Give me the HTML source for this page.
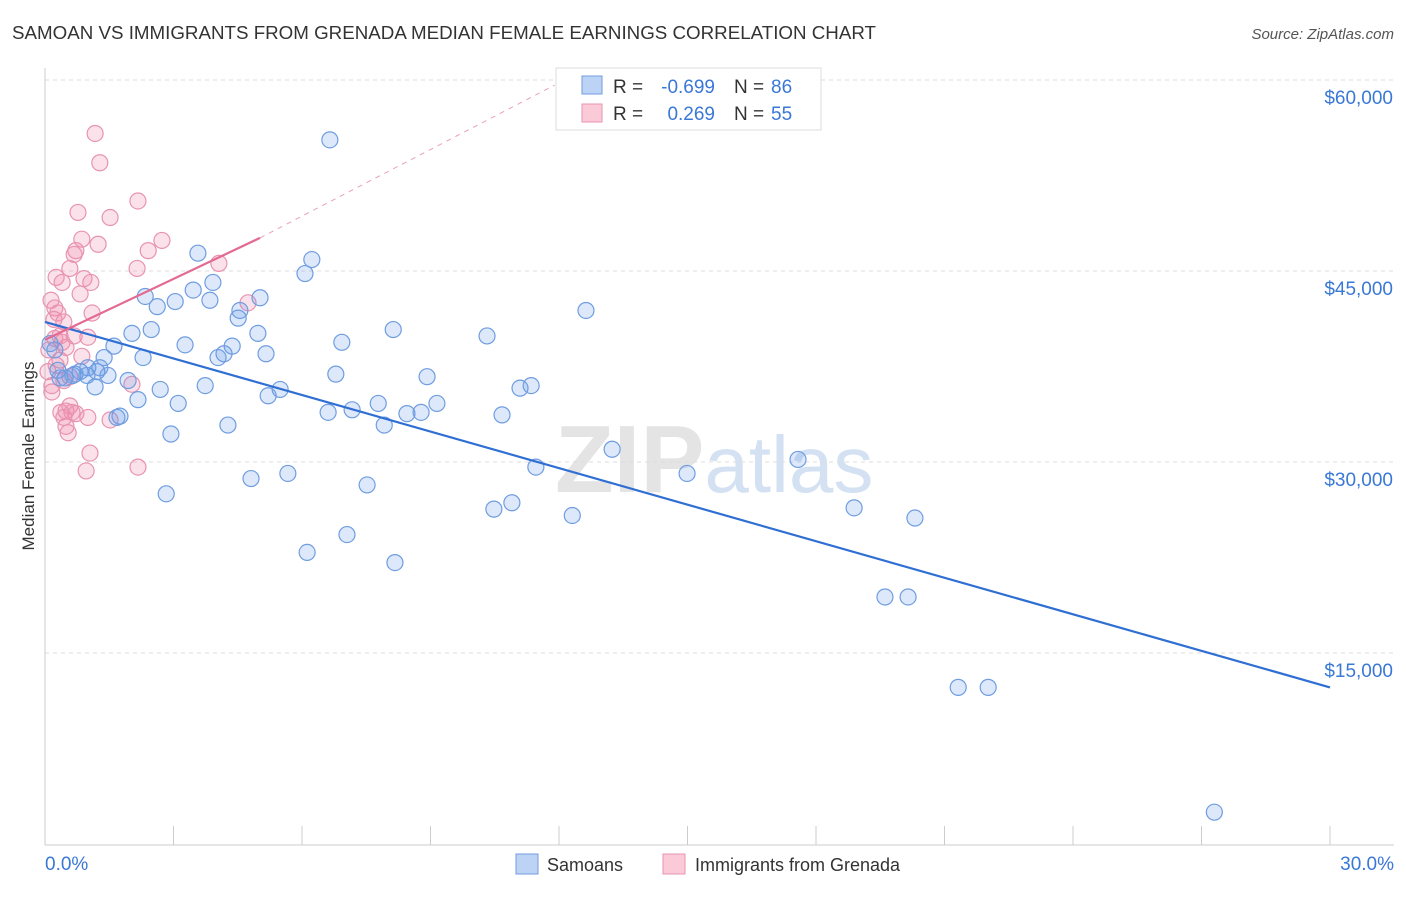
<!DOCTYPE html>
<html><head><meta charset="utf-8"><style>
body{margin:0;background:#fff;font-family:"Liberation Sans",sans-serif;}
svg text{font-family:"Liberation Sans",sans-serif;}
</style></head><body>
<svg id="chart" width="1406" height="892" viewBox="0 0 1406 892" xmlns="http://www.w3.org/2000/svg">
<text x="12" y="39" font-size="18" fill="#333" textLength="864" lengthAdjust="spacingAndGlyphs">SAMOAN VS IMMIGRANTS FROM GRENADA MEDIAN FEMALE EARNINGS CORRELATION CHART</text>
<text x="1394" y="39" font-size="15" fill="#555" text-anchor="end" font-style="italic">Source: ZipAtlas.com</text>
<text x="555" y="492" font-size="96" fill="#e4e4e4" font-family="Liberation Serif" font-weight="bold">ZIP<tspan fill="#d3e1f3" font-family="Liberation Sans" font-weight="normal" font-size="80">atlas</tspan></text>
<g id="grid"></g>
<g id="axes"></g>
<g id="trends"></g>
<g id="points"></g>
<text transform="translate(34,456) rotate(-90)" font-size="17" fill="#333" text-anchor="middle">Median Female Earnings</text>
<g>
<rect x="556" y="68" width="265" height="62" fill="#fff" stroke="#ddd"/>
<rect x="582" y="76" width="20" height="18" fill="#bcd3f5" stroke="#6f9de0"/>
<rect x="582" y="104" width="20" height="18" fill="#fbcad9" stroke="#e893b0"/>
<text x="613" y="93" font-size="19" fill="#333">R =</text>
<text x="715" y="93" font-size="19" fill="#3a78d6" text-anchor="end">-0.699</text>
<text x="734" y="93" font-size="19" fill="#333">N =</text>
<text x="771" y="93" font-size="19" fill="#3a78d6">86</text>
<text x="613" y="120" font-size="19" fill="#333">R =</text>
<text x="715" y="120" font-size="19" fill="#3a78d6" text-anchor="end">0.269</text>
<text x="734" y="120" font-size="19" fill="#333">N =</text>
<text x="771" y="120" font-size="19" fill="#3a78d6">55</text>
</g>
<g>
<rect x="516" y="854" width="22" height="20" fill="#bcd3f5" stroke="#6f9de0"/>
<text x="547" y="871" font-size="18" fill="#333">Samoans</text>
<rect x="663" y="854" width="22" height="20" fill="#fbcad9" stroke="#e893b0"/>
<text x="695" y="871" font-size="18" fill="#333">Immigrants from Grenada</text>
</g>
</svg>
<script>
const yTicks=[15000,30000,45000,60000];
const yTickLabels=["$15,000","$30,000","$45,000","$60,000"];
const xTickValues=[0,3,6,9,12,15,18,21,24,27,30];
const xEndLabels=["0.0%","30.0%"];
const blueX=[6.65,6.23,6.07,3.57,3.92,2.34,3.04,2.62,3.46,3.85,4.55,5.02,4.51,4.97,2.03,2.48,3.27,4.37,4.18,4.04,5.16,1.61,1.38,2.29,0.12,0.23,0.30,0.47,0.65,0.82,1.00,1.21,1.47,1.17,1.94,2.69,2.17,3.11,3.74,5.49,5.21,1.75,1.68,4.27,2.94,2.83,4.81,5.67,6.12,6.93,6.79,6.61,7.17,7.78,7.92,7.52,7.05,8.17,8.13,8.92,8.45,8.78,9.15,10.32,11.09,11.35,10.67,11.46,10.48,10.90,12.63,13.24,12.31,14.99,17.58,18.89,20.31,19.61,20.15,21.32,22.02,27.30,0.35,0.70,0.98,1.28];
const blueY=[55300,45900,44800,46400,44100,43000,42600,42200,43500,42700,41900,42900,41300,40100,40100,40400,39200,39100,38500,38200,38500,39100,38200,38200,39300,38800,37200,36600,36800,37100,37400,37100,36800,35900,36400,35700,34900,34600,36000,35700,35200,33600,33500,32900,32200,27500,28700,29100,22900,39400,36900,33900,34100,34600,32900,28200,24300,22100,40400,36700,33800,33900,34600,39900,35800,36000,33700,29600,26300,26800,41900,31000,25800,29100,30200,26400,25600,19400,19400,12300,12300,2500,36600,36900,36800,37400];
const pinkX=[1.17,1.28,2.17,0.77,1.52,0.86,2.73,1.24,0.72,2.41,0.68,4.06,2.15,0.58,0.26,0.91,0.40,1.07,0.82,0.14,0.23,1.10,0.30,0.44,4.74,1.00,0.23,0.40,0.49,0.09,0.86,0.35,0.07,2.03,0.44,0.16,0.58,0.49,0.37,0.63,0.72,0.44,1.00,1.52,0.49,0.54,1.05,2.17,0.96,0.16,0.58,0.26,0.68,0.35,0.21];
const pinkY=[55800,53500,50500,49600,49200,47500,47400,47100,46600,46600,46300,45600,45200,45200,44500,44400,44100,44100,43200,42700,42100,41700,41700,41000,42500,39800,39700,39400,39000,38800,38300,38000,37100,36100,36400,35500,34400,34000,33900,33900,33800,33500,33500,33300,32800,32300,30700,29600,29300,36000,36700,37600,39900,39900,41200];
const blueTrend=[0,41000,30,12300];
const pinkTrend=[0,39600,5.02,47600];
const pinkDash=[5.02,47600,11.9,59600];
const NS="http://www.w3.org/2000/svg";
const X0=45,X1=1330;
function xs(v){return X0+(v/30)*(X1-X0);}
function ys(v){return 80+(60000-v)/15000*191;}
function mk(tag,attrs,parent){const e=document.createElementNS(NS,tag);for(const k in attrs)e.setAttribute(k,attrs[k]);parent.appendChild(e);return e;}
const grid=document.getElementById('grid'),axes=document.getElementById('axes'),tr=document.getElementById('trends'),pts=document.getElementById('points');
yTicks.forEach((t,i)=>{
 const l=mk('line',{x1:X0,x2:1394,y1:ys(t),y2:ys(t),stroke:'#ddd','stroke-dasharray':'4,4'},grid);
 
 
 const tx=mk('text',{x:1393,y:ys(t)+24,'font-size':19,fill:'#3a78d6','text-anchor':'end'},axes);
 tx.textContent=yTickLabels[i];
 
 
});
const ax=mk('line',{x1:X0,x2:1394,y1:845,y2:845,stroke:'#ccc'},axes);


const ay=mk('line',{x1:X0,x2:X0,y1:68,y2:845,stroke:'#ccc'},axes);


xTickValues.forEach(v=>{
 const t=mk('line',{x1:xs(v),x2:xs(v),y1:826,y2:845,stroke:'#ccc'},axes);
 
 
});
const xl0=mk('text',{x:45,y:870,'font-size':19,fill:'#3a78d6'},axes);xl0.textContent=xEndLabels[0];


const xl1=mk('text',{x:1394,y:870,'font-size':19,fill:'#3a78d6','text-anchor':'end'},axes);xl1.textContent=xEndLabels[1];


function drawPts(X,Y,fill,stroke,name){X.forEach((x,i)=>{
 const c=mk('circle',{cx:xs(x),cy:ys(Y[i]),r:8,fill:fill,stroke:stroke,'stroke-width':1.2},pts);
 
 
});}
drawPts(pinkX,pinkY,'rgba(240,140,170,0.25)','#e893b0','grenada-point');
drawPts(blueX,blueY,'rgba(100,150,230,0.22)','#6f9de0','samoan-point');
const bl=mk('line',{x1:xs(blueTrend[0]),y1:ys(blueTrend[1]),x2:xs(blueTrend[2]),y2:ys(blueTrend[3]),stroke:'#2f6fd4','stroke-width':2.2},tr);


const pd=mk('line',{x1:xs(pinkDash[0]),y1:ys(pinkDash[1]),x2:xs(pinkDash[2]),y2:ys(pinkDash[3]),stroke:'#eaa0b8','stroke-width':1,'stroke-dasharray':'5,5'},tr);


const pl=mk('line',{x1:xs(pinkTrend[0]),y1:ys(pinkTrend[1]),x2:xs(pinkTrend[2]),y2:ys(pinkTrend[3]),stroke:'#e26a93','stroke-width':2.2},tr);


document.getElementById('chart').appendChild(tr);
</script>
</body></html>
